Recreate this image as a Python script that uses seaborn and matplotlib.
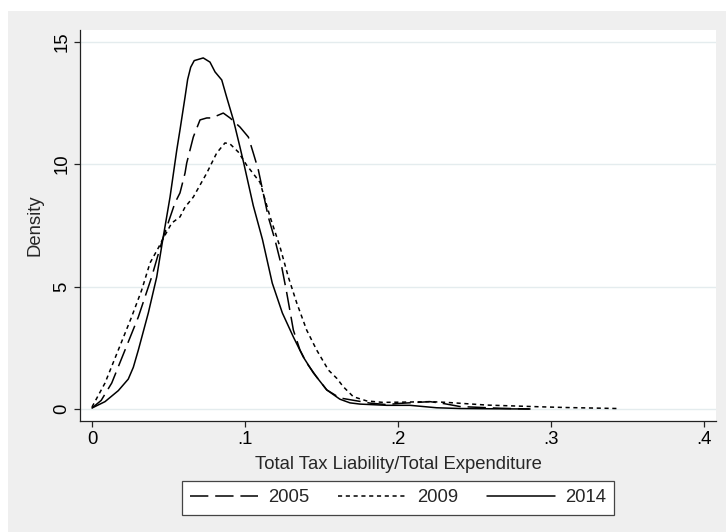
import matplotlib

matplotlib.use("Agg")
import matplotlib.pyplot as plt
import pandas as pd
import seaborn as sns
from matplotlib.patches import Rectangle

# density curves (x = tax share, y = density)
x_2005 = [0.0, 0.006, 0.0129, 0.0216, 0.0303, 0.039, 0.046, 0.0542, 0.0575, 0.0608, 0.0619,
          0.0662, 0.0706, 0.075, 0.0782, 0.0858, 0.0902, 0.0967, 0.1022, 0.1054, 0.1087,
          0.1152, 0.1196, 0.124, 0.1273, 0.1316, 0.1359, 0.1403, 0.1468, 0.1534, 0.162,
          0.1817, 0.1925, 0.2013, 0.2209, 0.23, 0.2405, 0.2667, 0.286]
y_2005 = [0.04, 0.35, 1.06, 2.41, 3.76, 5.39, 6.9, 8.41, 8.82, 9.63, 10.04,
          11.10, 11.80, 11.88, 11.88, 12.08, 11.88, 11.51, 11.10, 10.45, 9.76,
          7.84, 6.90, 5.80, 4.73, 3.22, 2.41, 1.88, 1.31, 0.78, 0.45,
          0.24, 0.18, 0.23, 0.30, 0.22, 0.10, 0.03, 0.0]

x_2009 = [0.0, 0.0085, 0.0172, 0.0259, 0.0325, 0.0379, 0.0433, 0.046, 0.0521, 0.0575, 0.0608,
          0.0662, 0.075, 0.0815, 0.0869, 0.0902, 0.0956, 0.1011, 0.1098, 0.1164, 0.1229,
          0.1283, 0.1338, 0.1403, 0.1468, 0.1545, 0.16, 0.1642, 0.1708, 0.1795, 0.19,
          0.2033, 0.2209, 0.2318, 0.258, 0.2928, 0.31, 0.343]
y_2009 = [0.08, 1.06, 2.41, 3.76, 4.86, 5.96, 6.57, 6.9, 7.59, 7.84, 8.24,
          8.65, 9.63, 10.45, 10.86, 10.82, 10.49, 9.95, 9.25, 7.84, 6.61,
          5.39, 4.33, 3.22, 2.41, 1.59, 1.25, 0.91, 0.50, 0.33, 0.27,
          0.28, 0.30, 0.27, 0.16, 0.09, 0.06, 0.02]

x_2014 = [0.0, 0.0085, 0.0172, 0.0237, 0.027, 0.0303, 0.0368, 0.0423, 0.0459, 0.051, 0.0554,
          0.0575, 0.0608, 0.0625, 0.0645, 0.0668, 0.0727, 0.0771, 0.0804, 0.0848, 0.088,
          0.0924, 0.0967, 0.0993, 0.1054, 0.1114, 0.1178, 0.1244, 0.1316, 0.1381, 0.1447,
          0.1534, 0.162, 0.1686, 0.1752, 0.1926, 0.2078, 0.2253, 0.2405, 0.26, 0.2863]
y_2014 = [0.04, 0.30, 0.75, 1.22, 1.70, 2.41, 3.92, 5.39, 6.78, 8.65, 10.57,
          11.39, 12.73, 13.45, 13.95, 14.22, 14.33, 14.16, 13.76, 13.43, 12.73,
          11.80, 10.69, 10.0, 8.3, 6.92, 5.14, 3.92, 2.94, 2.12, 1.47,
          0.78, 0.40, 0.25, 0.20, 0.15, 0.15, 0.05, 0.02, 0.01, 0.0]

years = ["2005", "2009", "2014"]
x_ticks = [0.0, 0.1, 0.2, 0.3, 0.4]
x_tick_labels = ["0", ".1", ".2", ".3", ".4"]
y_ticks = [0, 5, 10, 15]
y_tick_labels = ["0", "5", "10", "15"]

styles = {
    "2005": (0, (12, 4.5)),
    "2009": (0, (2.7, 2.4)),
    "2014": "-",
}

FS = 13.3


def main() -> None:
    sns.set_theme(style="white")
    plt.rcParams["font.family"] = ["Liberation Sans", "DejaVu Sans"]

    frames = []
    for year, xs, ys in zip(years, [x_2005, x_2009, x_2014], [y_2005, y_2009, y_2014]):
        frames.append(pd.DataFrame({"share": xs, "density": ys, "year": year}))
    df = pd.concat(frames, ignore_index=True)

    fig = plt.figure(figsize=(7.26, 5.32), dpi=100, facecolor="white")
    # Stata-style grey graph region
    fig.patches.append(Rectangle((8 / 726, 0), 1 - 8 / 726, 1 - 11 / 532,
                                 transform=fig.transFigure, facecolor="#efefef",
                                 edgecolor="none", zorder=-10))
    ax = fig.add_axes([80 / 726, 1 - 421 / 532, 636 / 726, 391 / 532])
    ax.set_facecolor("white")

    for year in years:
        sub = df[df["year"] == year]
        sns.lineplot(data=sub, x="share", y="density", ax=ax, color="black",
                     linewidth=1.1, linestyle=styles[year], label=year,
                     estimator=None, sort=False)

    ax.set_xlim(-0.00784, 0.4078)
    ax.set_ylim(-0.49, 15.47)
    ax.set_xticks(x_ticks)
    ax.set_xticklabels(x_tick_labels)
    ax.set_yticks(y_ticks)
    ax.set_yticklabels(y_tick_labels, rotation=90, va="center")
    ax.grid(axis="y", color="#e4ecee", linewidth=1.0)
    ax.grid(axis="x", visible=False)
    ax.set_axisbelow(True)

    for side in ["top", "right"]:
        ax.spines[side].set_visible(False)
    for side in ["left", "bottom"]:
        ax.spines[side].set_color("#222222")
        ax.spines[side].set_linewidth(0.9)
    ax.tick_params(axis="both", direction="out", length=4.5, width=0.9, color="#222222",
                   labelsize=FS, labelcolor="black", pad=2.5, left=True, bottom=True)

    ax.set_xlabel("Total Tax Liability/Total Expenditure", fontsize=FS, labelpad=6)
    ax.set_ylabel("Density", fontsize=FS, labelpad=7)

    ax.get_legend().remove()
    handles, labels = ax.get_legend_handles_labels()
    leg = fig.legend(handles, labels, loc="center", ncol=3,
                     bbox_to_anchor=(398 / 726, 1 - 498 / 532), fontsize=FS,
                     frameon=True, fancybox=False, edgecolor="#444444",
                     facecolor="white", framealpha=1.0, handlelength=3.7,
                     handletextpad=0.55, columnspacing=1.55, borderpad=0.45)
    leg.get_frame().set_linewidth(0.9)

    fig.savefig("out.png", dpi=100, facecolor=fig.get_facecolor())


if __name__ == "__main__":
    main()
